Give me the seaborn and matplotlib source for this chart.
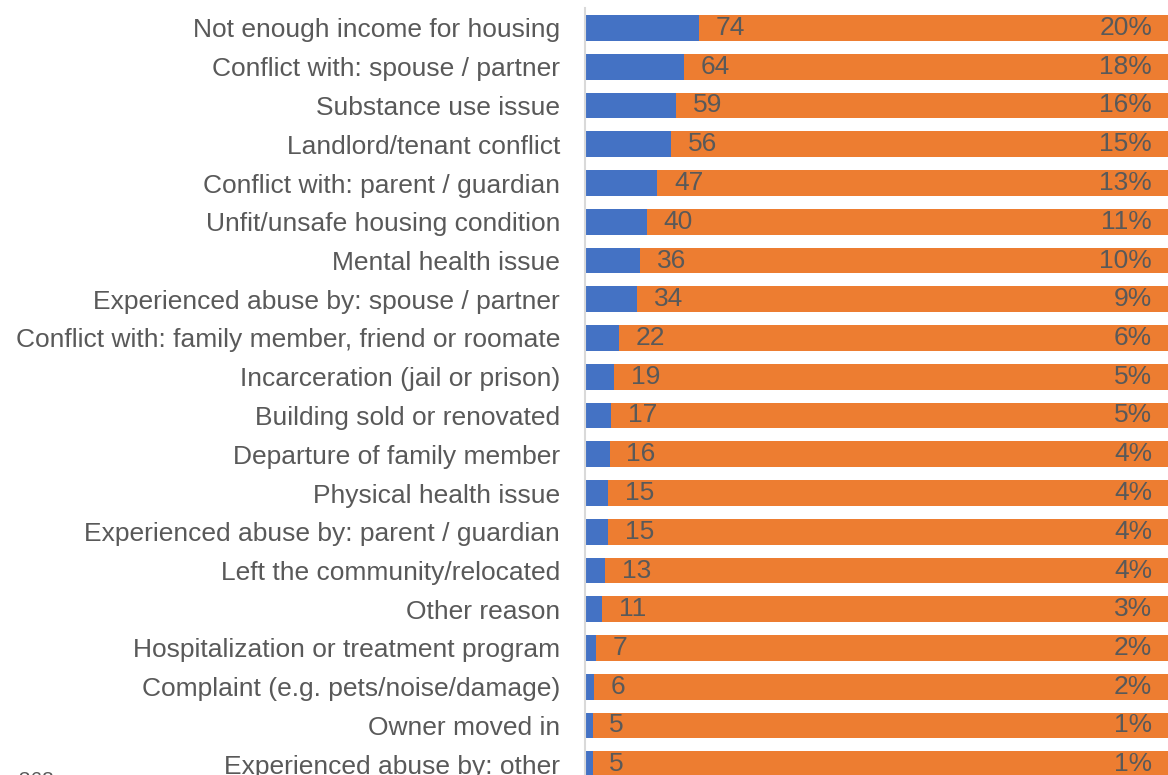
import matplotlib
matplotlib.use("Agg")
import matplotlib.pyplot as plt
import seaborn as sns
import pandas as pd

# Reasons for housing loss, counts and share of respondents (n = 368)
reasons = [
    "Not enough income for housing",
    "Conflict with: spouse / partner",
    "Substance use issue",
    "Landlord/tenant conflict",
    "Conflict with: parent / guardian",
    "Unfit/unsafe housing condition",
    "Mental health issue",
    "Experienced abuse by: spouse / partner",
    "Conflict with: family member, friend or roomate",
    "Incarceration (jail or prison)",
    "Building sold or renovated",
    "Departure of family member",
    "Physical health issue",
    "Experienced abuse by: parent / guardian",
    "Left the community/relocated",
    "Other reason",
    "Hospitalization or treatment program",
    "Complaint (e.g. pets/noise/damage)",
    "Owner moved in",
    "Experienced abuse by: other",
]
counts = [74, 64, 59, 56, 47, 40, 36, 34, 22, 19, 17, 16, 15, 15, 13, 11, 7, 6, 5, 5]
percent_labels = ["20%", "18%", "16%", "15%", "13%", "11%", "10%", "9%", "6%", "5%",
                  "5%", "4%", "4%", "4%", "4%", "3%", "2%", "2%", "1%", "1%"]
total_respondents = 368

BLUE = "#4472C4"
ORANGE = "#ED7D31"
TEXT = "#595959"

sns.set_theme(style="white")
plt.rcParams["font.family"] = ["Liberation Sans", "DejaVu Sans"]

W, H = 1168, 775
fig = plt.figure(figsize=(W / 100, H / 100), dpi=100)

# axes: left edge at the category spine, running off the right and bottom edges
ax = fig.add_axes([585 / W, 0.0, 1 - 585 / W, 1 - 8 / H])

x_max = 378.3
df = pd.DataFrame({"reason": reasons, "count": counts})
df["full"] = x_max

bar_w = 0.67
sns.barplot(data=df, x="full", y="reason", orient="h", color=ORANGE,
            width=bar_w, saturation=1, linewidth=0, edgecolor="none", ax=ax)
sns.barplot(data=df, x="count", y="reason", orient="h", color=BLUE,
            width=bar_w, saturation=1, linewidth=0, edgecolor="none", ax=ax)

pitch = 38.75
ax.set_xlim(0, x_max)
ax.set_ylim((H - 28) / pitch, -20 / pitch)

for i, (c, p) in enumerate(zip(counts, percent_labels)):
    ax.annotate(str(c), xy=(c, i), xytext=(12, 0), textcoords="offset points",
                ha="left", va="center", fontsize=19, color=TEXT)
    ax.text(total_respondents, i, p, ha="right", va="center",
            fontsize=19, color=TEXT)

ax.set_xlabel("")
ax.set_ylabel("")
ax.set_xticks([])
ax.tick_params(axis="y", length=0, pad=18, labelsize=19, labelcolor=TEXT)
for side in ["top", "right", "bottom"]:
    ax.spines[side].set_visible(False)
ax.spines["left"].set_color("#d9d9d9")
ax.spines["left"].set_linewidth(1.5)

fig.text(-4 / W, 1 - 771 / H, f"n={total_respondents}", ha="left", va="top",
         fontsize=15, color=TEXT)

fig.savefig("out.png", dpi=100)
